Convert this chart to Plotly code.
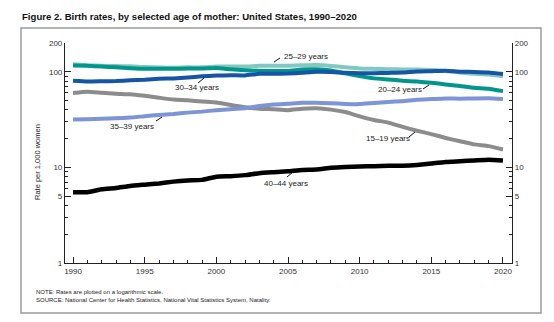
import plotly.graph_objects as go

years = list(range(1990, 2021))

age_15_19 = [59.9, 61.8, 60.3, 59.0, 58.2, 56.0, 53.5, 51.3, 50.3, 48.8, 47.7, 45.0, 42.6, 41.1, 40.5, 39.7,
             41.1, 41.5, 40.2, 37.9, 34.2, 31.3, 29.4, 26.5, 24.2, 22.3, 20.3, 18.8, 17.4, 16.7, 15.4]
age_20_24 = [116.5, 115.3, 113.7, 111.3, 109.2, 107.5, 107.8, 107.3, 108.2, 107.9, 109.7, 106.2, 103.6, 102.6,
             101.7, 102.2, 105.9, 106.3, 103.0, 96.2, 90.0, 85.3, 83.1, 80.7, 79.0, 76.8, 73.8, 71.0, 68.0, 66.6, 62.8]
age_25_29 = [120.2, 117.2, 115.7, 114.6, 114.4, 112.2, 111.1, 110.1, 111.2, 111.2, 113.5, 113.4, 113.6, 115.6,
             115.5, 115.5, 116.7, 117.5, 115.1, 111.5, 108.3, 107.2, 106.5, 105.5, 105.8, 104.3, 102.1, 98.0, 95.3, 93.7, 90.0]
age_30_34 = [80.8, 79.2, 79.6, 80.0, 81.5, 82.5, 84.5, 85.3, 87.2, 89.6, 91.2, 91.9, 91.6, 95.1, 95.3, 95.8,
             97.7, 99.9, 99.3, 97.5, 96.5, 96.5, 97.3, 98.0, 100.8, 101.5, 102.7, 100.3, 99.7, 98.3, 94.9]
age_35_39 = [31.7, 31.9, 32.3, 32.7, 33.2, 34.3, 35.3, 36.1, 37.4, 38.3, 39.7, 40.6, 41.6, 43.8, 45.4, 46.3,
             47.3, 47.5, 46.9, 46.1, 45.9, 47.2, 48.3, 49.3, 51.0, 51.8, 52.7, 52.3, 52.6, 52.8, 51.9]
age_40_44 = [5.5, 5.5, 5.9, 6.1, 6.4, 6.6, 6.8, 7.1, 7.3, 7.4, 8.0, 8.1, 8.3, 8.7, 8.9, 9.1,
             9.4, 9.5, 9.9, 10.1, 10.2, 10.3, 10.4, 10.4, 10.6, 11.0, 11.4, 11.6, 11.8, 12.0, 11.8]

x_major = [1990, 1995, 2000, 2005, 2010, 2015, 2020]
y_major = [1, 5, 10, 100, 200]
y_minor = [2, 3, 4, 6, 7, 8, 9, 20, 30, 40, 50, 60, 70, 80, 90]

series = [
    ("15–19 years", age_15_19, "#8c8c8c", 4),
    ("35–39 years", age_35_39, "#7d95d6", 4),
    ("25–29 years", age_25_29, "#80c8c0", 4),
    ("20–24 years", age_20_24, "#00968b", 4),
    ("30–34 years", age_30_34, "#1455a6", 4),
    ("40–44 years", age_40_44, "#000000", 4.5),
]

fig = go.Figure()
for name, vals, color, w in series:
    fig.add_trace(go.Scatter(x=years, y=vals, mode="lines", name=name,
                             line=dict(color=color, width=w, shape="spline", smoothing=0.4),
                             hoverinfo="skip"))
# invisible trace to anchor the right-hand axis
fig.add_trace(go.Scatter(x=[years[0]], y=[age_40_44[0]], yaxis="y2", mode="markers",
                         marker=dict(opacity=0), showlegend=False, hoverinfo="skip"))

W, H = 554, 322
L, R, T, B = 65, 42, 43, 59
pw, ph = W - L - R, H - T - B

def px(x):
    return (x - L) / pw

def py(y):
    return (H - B - y) / ph

tickfont = dict(family="Liberation Sans, Arial, sans-serif", size=8, color="#333333")
yax = dict(type="log", range=[0, 2.30103], tickvals=y_major, ticktext=[str(v) for v in y_major],
           showline=True, linecolor="#222222", linewidth=1.2, ticks="inside", ticklen=6,
           tickcolor="#222222", tickwidth=1.2, showgrid=False, zeroline=False, tickfont=tickfont,
           minor=dict(tickvals=y_minor, ticks="inside", ticklen=3, tickcolor="#222222", tickwidth=1))

fig.update_layout(
    width=W, height=H,
    margin=dict(l=L, r=R, t=T, b=B),
    paper_bgcolor="white", plot_bgcolor="white",
    showlegend=False,
    title=dict(text="<b>Figure 2. Birth rates, by selected age of mother: United States, 1990–2020</b>",
               x=22 / W, xanchor="left", y=1 - 17 / H, yanchor="middle", xref="container", yref="container",
               font=dict(family="Liberation Sans Narrow, Arial Narrow, Liberation Sans, sans-serif",
                         size=9.6, color="#111111")),
    xaxis=dict(range=[1989.44, 2020.63], tickvals=x_major, showline=True, linecolor="#222222", linewidth=1.2,
               ticks="inside", ticklen=6, tickcolor="#222222", tickwidth=1.2, showgrid=False, zeroline=False,
               tickfont=tickfont,
               minor=dict(dtick=1, tick0=1990, ticks="inside", ticklen=3, tickcolor="#222222", tickwidth=1)),
    yaxis=yax,
    yaxis2=dict(yax, overlaying="y", side="right", anchor="x"),
)

# outer frame
fig.add_shape(type="rect", xref="paper", yref="paper",
              x0=px(21), x1=px(541), y0=py(313), y1=py(28),
              line=dict(color="#9a9a9a", width=1.5), fillcolor="rgba(0,0,0,0)", layer="below")

# y axis title
fig.add_annotation(text="Rate per 1,000 women", xref="paper", yref="paper", x=px(37), y=py(162),
                   textangle=-90, showarrow=False, xanchor="center", yanchor="middle",
                   font=dict(family="Liberation Sans, Arial, sans-serif", size=7.5, color="#222222"))

# series labels and leader lines
labels = [
    ("25–29 years", 282, 57, (274, 62, 280, 58)),
    ("30–34 years", 173, 87, (198, 83, 204, 78)),
    ("20–24 years", 376, 89, (423, 89, 429, 85)),
    ("35–39 years", 108, 126, (156, 121, 162, 117)),
    ("15–19 years", 364, 138, (409, 137, 415, 132)),
    ("40–44 years", 262, 183, (287, 177, 293, 172)),
]
for text, lx, ly, (x0, y0, x1, y1) in labels:
    fig.add_annotation(text=text, xref="paper", yref="paper", x=px(lx), y=py(ly), showarrow=False,
                       xanchor="left", yanchor="middle",
                       font=dict(family="Liberation Sans, Arial, sans-serif", size=8, color="#222222"))
    fig.add_shape(type="line", xref="paper", yref="paper", x0=px(x0), y0=py(y0), x1=px(x1), y1=py(y1),
                  line=dict(color="#111111", width=1))

# notes
fig.add_annotation(text="NOTE: Rates are plotted on a logarithmic scale.<br>"
                        "SOURCE: National Center for Health Statistics, National Vital Statistics System, Natality.",
                   xref="paper", yref="paper", x=px(34), y=py(287), showarrow=False, align="left",
                   xanchor="left", yanchor="top",
                   font=dict(family="Liberation Sans, Arial, sans-serif", size=6, color="#222222"))

fig.write_html("out.html")
